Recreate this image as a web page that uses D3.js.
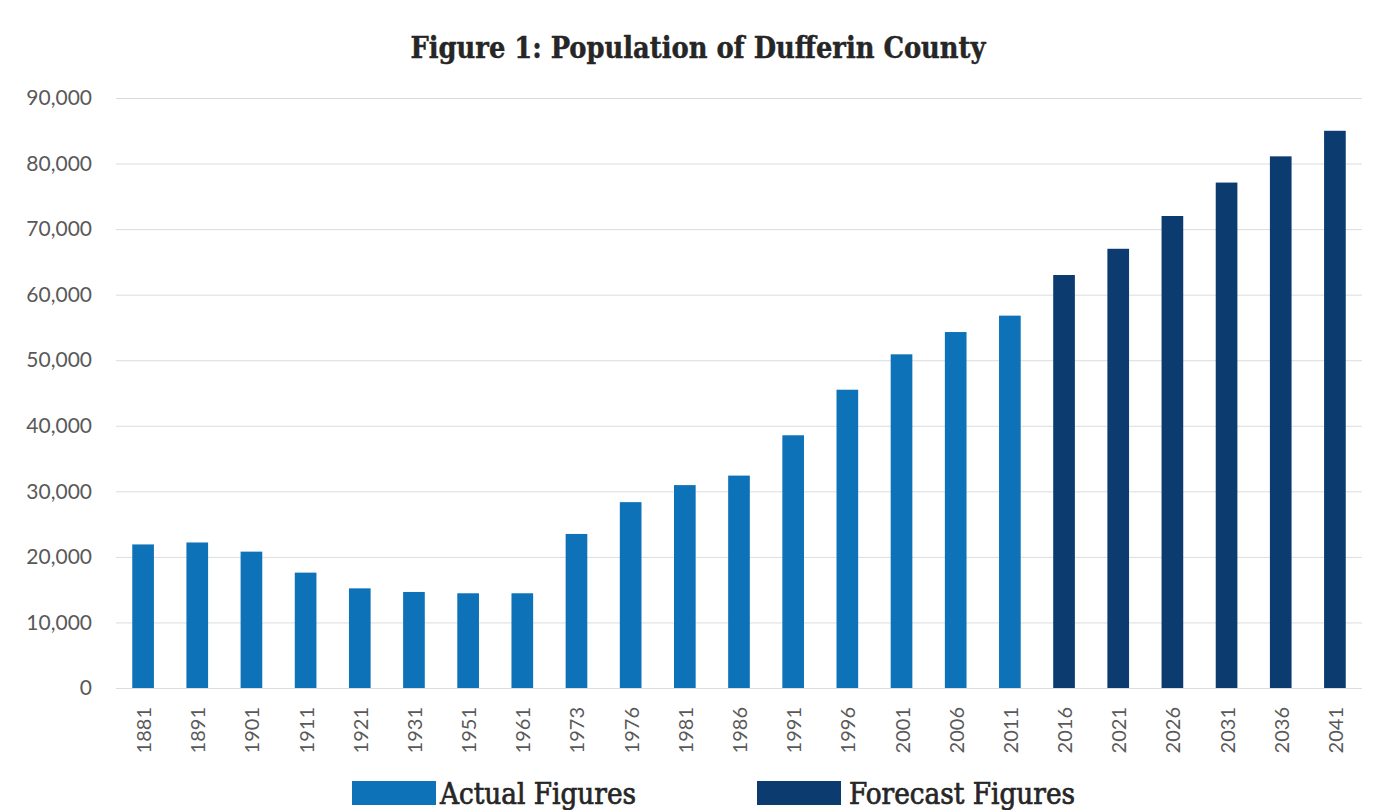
<!DOCTYPE html>
<html>
<head>
<meta charset="utf-8">
<script src="https://cdn.jsdelivr.net/npm/d3@7"></script>
<style>
  html, body { margin: 0; padding: 0; background: #ffffff; }
  svg { display: block; }
</style>
</head>
<body>
<svg id="chart" width="1396" height="810"></svg>
<script>
// ---- Data ----
const categories = ["1881","1891","1901","1911","1921","1931","1951","1961","1973","1976","1981","1986","1991","1996","2001","2006","2011","2016","2021","2026","2031","2036","2041"];
const actualYears = ["1881","1891","1901","1911","1921","1931","1951","1961","1973","1976","1981","1986","1991","1996","2001","2006","2011"];
const actualValues = [21900, 22200, 20800, 17600, 15200, 14650, 14450, 14450, 23500, 28350, 30950, 32400, 38550, 45500, 50900, 54300, 56800];
const forecastYears = ["2016","2021","2026","2031","2036","2041"];
const forecastValues = [63000, 67000, 72000, 77100, 81100, 85000];
const yTicks = [0, 10000, 20000, 30000, 40000, 50000, 60000, 70000, 80000, 90000];
const seriesNames = ["Actual Figures", "Forecast Figures"];
const titleText = "Figure 1: Population of Dufferin County";

// ---- Layout ----
const W = 1396, H = 810;
const plotLeft = 116, plotRight = 1362, plotTop = 98, plotBottom = 688;
const colors = { actual: "#0e72b8", forecast: "#0c3b70" };
const serif = "'DejaVu Serif Condensed', 'DejaVu Serif', 'Liberation Serif', serif";

const svg = d3.select("#chart");
svg.append("rect").attr("width", W).attr("height", H).attr("fill", "#ffffff");

const x = d3.scaleBand().domain(categories).range([plotLeft, plotRight])
  .paddingInner(0.6).paddingOuter(0.3);
const y = d3.scaleLinear().domain([0, 90000]).range([plotBottom, plotTop]);

// Y axis with gridlines
const yAxis = d3.axisLeft(y).tickValues(yTicks).tickFormat(d3.format(","))
  .tickSize(-(plotRight - plotLeft)).tickPadding(24);
const gy = svg.append("g").attr("transform", `translate(${plotLeft},0)`).call(yAxis);
gy.select(".domain").remove();
gy.selectAll(".tick line").attr("stroke", "#dcdcdc").attr("stroke-width", 1);
gy.selectAll(".tick text")
  .attr("fill", "#595959")
  .style("font-family", "Lato, 'Open Sans', sans-serif")
  .style("font-size", "21px");

// X axis labels (rotated)
const xAxis = d3.axisBottom(x).tickSize(0).tickPadding(0);
const gx = svg.append("g").attr("transform", `translate(0,${plotBottom})`).call(xAxis);
gx.select(".domain").remove();
gx.selectAll(".tick text")
  .attr("fill", "#595959")
  .style("font-family", "Lato, 'Open Sans', sans-serif")
  .style("font-size", "20px")
  .attr("text-anchor", "end")
  .attr("dy", null)
  .attr("y", null)
  .attr("dominant-baseline", "central")
  .attr("transform", "translate(0,19) rotate(-90)");

// Bars
svg.append("g").selectAll("rect.actual")
  .data(actualYears.map((c, i) => ({ c, v: actualValues[i] })))
  .join("rect")
  .attr("class", "actual")
  .attr("x", d => x(d.c))
  .attr("width", x.bandwidth())
  .attr("y", d => y(d.v))
  .attr("height", d => y(0) - y(d.v))
  .attr("fill", colors.actual);

svg.append("g").selectAll("rect.forecast")
  .data(forecastYears.map((c, i) => ({ c, v: forecastValues[i] })))
  .join("rect")
  .attr("class", "forecast")
  .attr("x", d => x(d.c))
  .attr("width", x.bandwidth())
  .attr("y", d => y(d.v))
  .attr("height", d => y(0) - y(d.v))
  .attr("fill", colors.forecast);

// Title
svg.append("text")
  .attr("x", 698).attr("y", 58)
  .attr("text-anchor", "middle")
  .attr("fill", "#262626")
  .attr("stroke", "#262626")
  .attr("stroke-width", 0.4)
  .style("font-family", serif)
  .style("font-stretch", "condensed")
  .style("font-weight", "bold")
  .style("font-size", "29px")
  .attr("textLength", 575)
  .attr("lengthAdjust", "spacingAndGlyphs")
  .text(titleText);

// Legend
const legend = [
  { name: seriesNames[0], color: colors.actual, sx: 352, tx: 440, tw: 196 },
  { name: seriesNames[1], color: colors.forecast, sx: 757, tx: 849, tw: 226 }
];
const lg = svg.append("g");
legend.forEach(d => {
  lg.append("rect").attr("x", d.sx).attr("y", 781).attr("width", 84).attr("height", 24).attr("fill", d.color);
  lg.append("text")
    .attr("x", d.tx).attr("y", 804)
    .attr("fill", "#262626")
    .attr("stroke", "#262626")
    .attr("stroke-width", 0.7)
    .style("font-family", serif)
    .style("font-stretch", "condensed")
    .style("font-size", "30px")
    .attr("textLength", d.tw)
    .attr("lengthAdjust", "spacingAndGlyphs")
    .text(d.name);
});
</script>
</body>
</html>
